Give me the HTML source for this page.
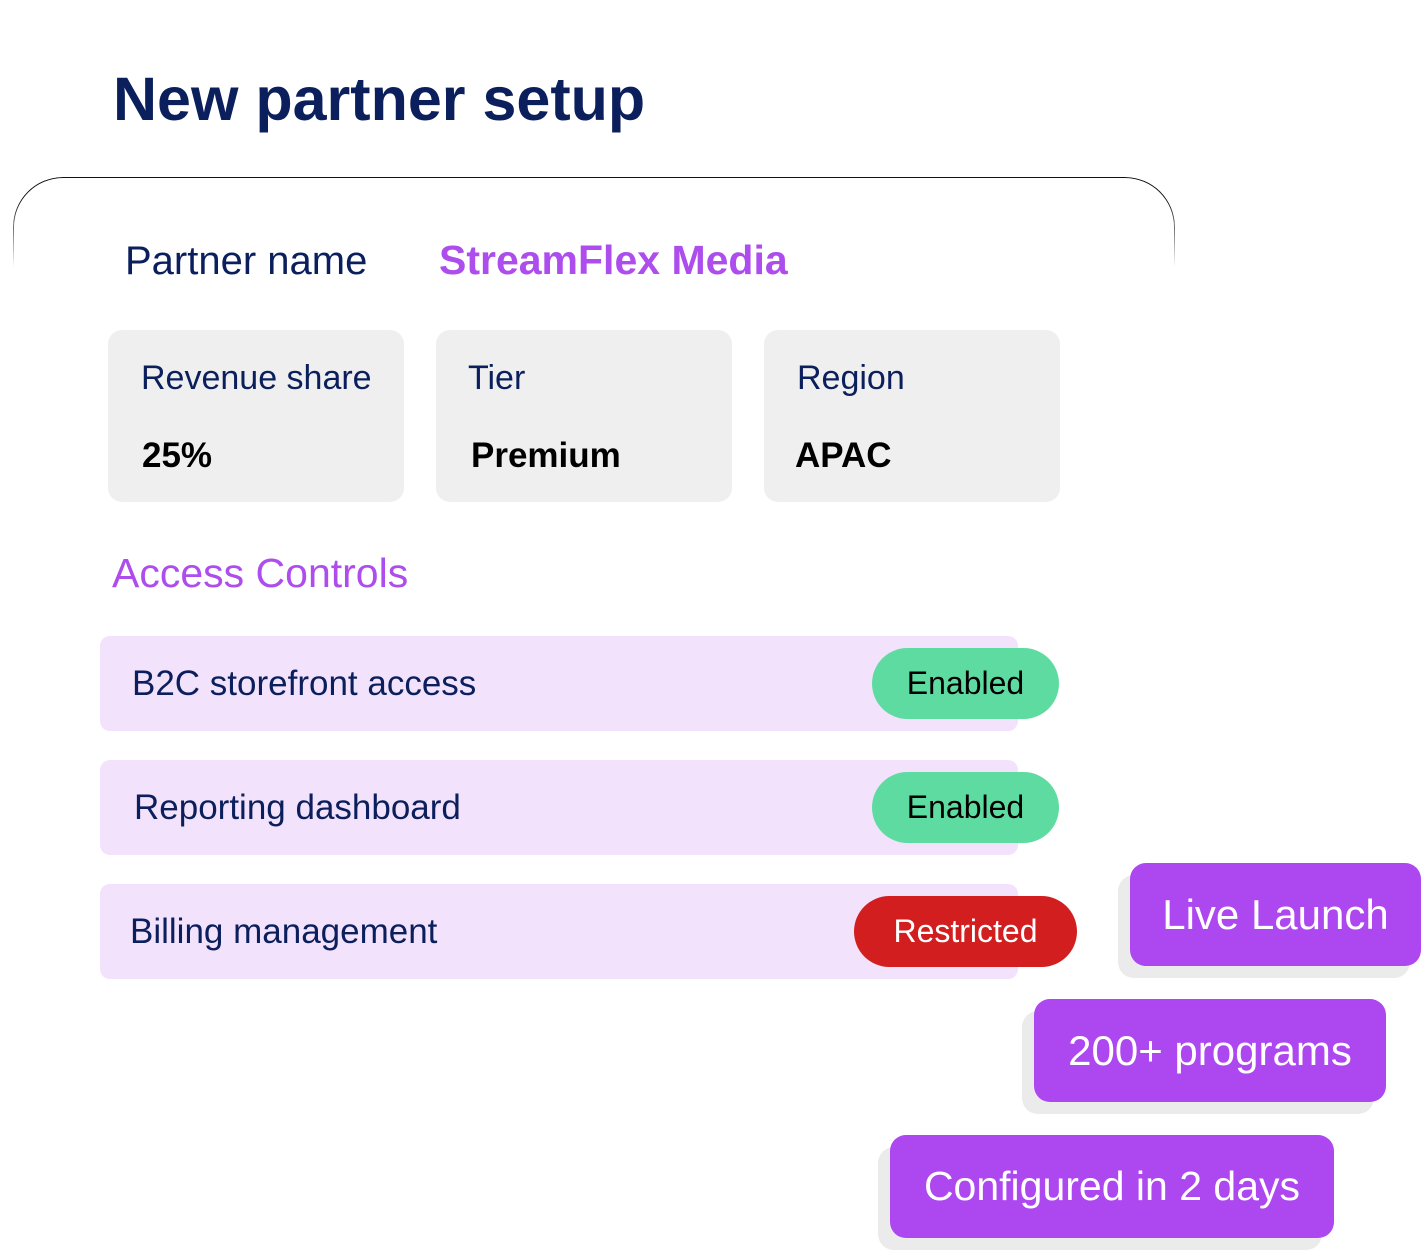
<!DOCTYPE html>
<html><head><meta charset="utf-8"><style>
*{margin:0;padding:0;box-sizing:border-box}
body{width:1423px;height:1252px;background:#fff;position:relative;overflow:hidden;font-family:"Liberation Sans",sans-serif}
.a{position:absolute;line-height:1;white-space:nowrap}
.card{position:absolute;left:13px;top:177px;width:1162px;height:120px;border:1.5px solid #111;border-bottom:none;border-radius:50px 50px 0 0;-webkit-mask-image:linear-gradient(#000 20%,transparent 75%);mask-image:linear-gradient(#000 20%,transparent 75%)}
.box{position:absolute;top:330px;width:296px;height:172px;background:#efefef;border-radius:14px}
.row{position:absolute;left:100px;width:918px;height:95px;background:#f3e2fb;border-radius:10px}
.pill{position:absolute;display:flex;align-items:center;justify-content:center;height:71px;border-radius:36px;font-size:32px}
.sh{position:absolute;background:#ebebeb;border-radius:16px}
.btn{position:absolute;background:#ad47ef;border-radius:16px;color:#fff;display:flex;align-items:center;justify-content:center;font-size:42px;height:103px}
</style></head><body>
<div class="a" style="left:113px;top:69px;font-size:61px;font-weight:bold;color:#0b1f5c">New partner setup</div>
<div class="card"></div>
<div class="a" style="left:125px;top:241px;font-size:40px;color:#0b1f5c">Partner name</div>
<div class="a" style="left:439px;top:240px;font-size:41px;font-weight:bold;color:#ad4ded">StreamFlex Media</div>

<div class="box" style="left:108px"></div>
<div class="box" style="left:436px"></div>
<div class="box" style="left:764px"></div>
<div class="a" style="left:141px;top:361px;font-size:34px;color:#0b1f5c">Revenue share</div>
<div class="a" style="left:468px;top:361px;font-size:34px;color:#0b1f5c">Tier</div>
<div class="a" style="left:797px;top:361px;font-size:34px;color:#0b1f5c">Region</div>
<div class="a" style="left:142px;top:438px;font-size:35px;font-weight:bold;color:#000">25%</div>
<div class="a" style="left:471px;top:438px;font-size:35px;font-weight:bold;color:#000">Premium</div>
<div class="a" style="left:795px;top:438px;font-size:35px;font-weight:bold;color:#000">APAC</div>

<div class="a" style="left:112px;top:553px;font-size:41px;color:#ad4ded">Access Controls</div>

<div class="row" style="top:636px"></div>
<div class="row" style="top:760px"></div>
<div class="row" style="top:884px"></div>
<div class="a" style="left:132px;top:666px;font-size:35px;color:#0b1f5c">B2C storefront access</div>
<div class="a" style="left:134px;top:790px;font-size:35px;color:#0b1f5c">Reporting dashboard</div>
<div class="a" style="left:130px;top:914px;font-size:35px;color:#0b1f5c">Billing management</div>
<div class="pill" style="left:872px;top:648px;width:187px;background:#5edba0;color:#000">Enabled</div>
<div class="pill" style="left:872px;top:772px;width:187px;background:#5edba0;color:#000">Enabled</div>
<div class="pill" style="left:854px;top:896px;width:223px;background:#d21e1e;color:#fff">Restricted</div>

<div class="sh" style="left:1118px;top:875px;width:292px;height:103px"></div>
<div class="btn" style="left:1130px;top:863px;width:291px">Live Launch</div>
<div class="sh" style="left:1022px;top:1011px;width:352px;height:103px"></div>
<div class="btn" style="left:1034px;top:999px;width:352px">200+ programs</div>
<div class="sh" style="left:878px;top:1147px;width:444px;height:103px"></div>
<div class="btn" style="left:890px;top:1135px;width:444px;font-size:41px">Configured in 2 days</div>
</body></html>
